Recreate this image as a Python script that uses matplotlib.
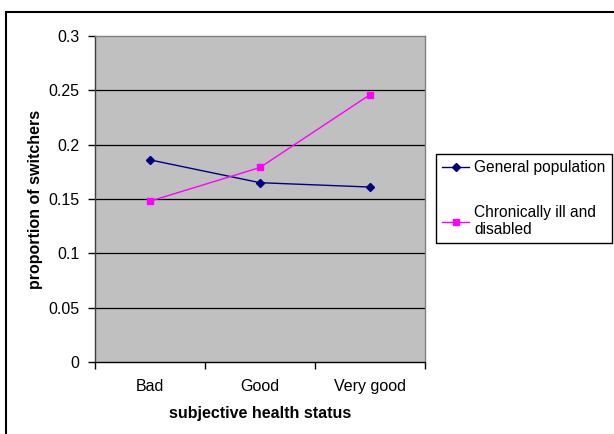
import matplotlib
matplotlib.use("Agg")
import matplotlib.pyplot as plt
from matplotlib.patches import Rectangle

categories = ["Bad", "Good", "Very good"]
general_population = [0.186, 0.165, 0.161]
chronically_ill = [0.148, 0.179, 0.246]
yticks = [0, 0.05, 0.1, 0.15, 0.2, 0.25, 0.3]
ytick_labels = ["0", "0.05", "0.1", "0.15", "0.2", "0.25", "0.3"]

plt.rcParams['font.family'] = ['Liberation Sans', 'DejaVu Sans']
FS = 11.5

W, H = 614, 434
fig = plt.figure(figsize=(W / 100, H / 100), dpi=100)
fig.patch.set_facecolor("white")

# outer frame
fig.patches.append(Rectangle((6 / W, -0.1), 1.2, 1 - 12 / H + 0.1, transform=fig.transFigure,
                             fill=False, edgecolor="black", linewidth=1.5))

left, right, top, bottom = 95, 425, 36, 362
ax = fig.add_axes([left / W, 1 - bottom / H, (right - left) / W, (bottom - top) / H])
ax.set_facecolor("#C0C0C0")

x = [i + 0.5 for i in range(len(categories))]
ax.plot(x, general_population, color="#000080", marker="D", markersize=4, linewidth=1,
        label="General population")
ax.plot(x, chronically_ill, color="#FF00FF", marker="s", markersize=5, linewidth=1,
        label="Chronically ill and\ndisabled")

ax.set_xlim(0, 3)
ax.set_ylim(0, 0.3)
ax.set_yticks(yticks)
ax.set_yticklabels(ytick_labels, fontsize=FS)
for yv in yticks[1:-1]:
    ax.axhline(yv, color="black", linewidth=0.9, zorder=1)

ax.set_xticks([0, 1, 2, 3])
ax.set_xticklabels([])
ax.set_xticks(x, minor=True)
ax.set_xticklabels(categories, minor=True, fontsize=FS)
ax.tick_params(axis="x", which="minor", length=0, pad=12)
ax.tick_params(axis="x", which="major", length=5, direction="out", width=1)
ax.tick_params(axis="y", length=5, direction="out", width=1, pad=6)

ax.spines["left"].set_color("#404040")
ax.spines["bottom"].set_color("black")
ax.spines["top"].set_color("#808080")
ax.spines["right"].set_color("#808080")
for s in ax.spines.values():
    s.set_linewidth(1)

ax.set_xlabel("subjective health status", fontsize=FS, fontweight="bold", labelpad=9)
ax.set_ylabel("proportion of switchers", fontsize=FS, fontweight="bold", labelpad=4)

leg = fig.legend(loc="upper left", bbox_to_anchor=(436 / W, 1 - 154 / H), fontsize=11.2,
                 frameon=True, fancybox=False, edgecolor="black", framealpha=1,
                 handlelength=1.75, handletextpad=0.3, labelspacing=1.9, borderpad=0.4,
                 borderaxespad=0)
leg.get_frame().set_linewidth(1)

fig.savefig("out.png", dpi=100)
